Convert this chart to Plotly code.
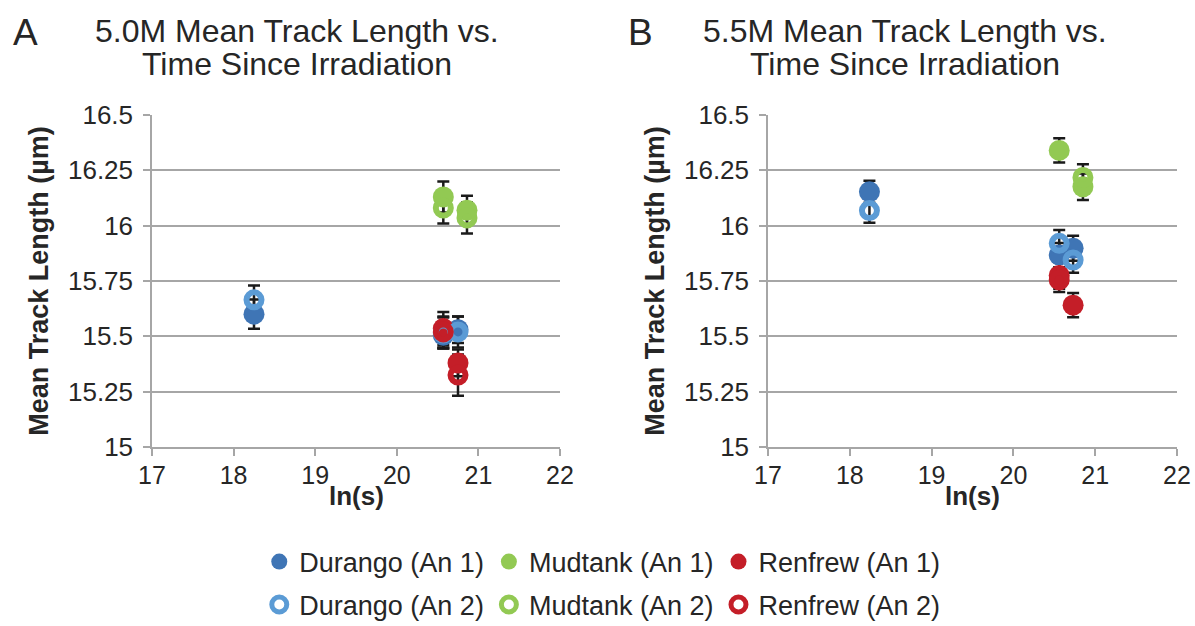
import plotly.graph_objects as go

# ---- data: ln(time since irradiation) vs mean track length (µm) ----
# Panel A: 5.0M etch
a_durango1_x = [18.25, 20.57, 20.75]
a_durango1_y = [15.60, 15.505, 15.53]
a_durango1_e = [0.066, 0.06, 0.06]
a_durango2_x = [18.25, 20.57, 20.75]
a_durango2_y = [15.665, 15.515, 15.52]
a_durango2_e = [0.065, 0.07, 0.07]
a_mudtank1_x = [20.57, 20.86]
a_mudtank1_y = [16.13, 16.07]
a_mudtank1_e = [0.07, 0.065]
a_mudtank2_x = [20.57, 20.86]
a_mudtank2_y = [16.08, 16.035]
a_mudtank2_e = [0.07, 0.07]
a_renfrew1_x = [20.57, 20.75]
a_renfrew1_y = [15.535, 15.38]
a_renfrew1_e = [0.075, 0.06]
a_renfrew2_x = [20.57, 20.75]
a_renfrew2_y = [15.52, 15.325]
a_renfrew2_e = [0.07, 0.093]

# Panel B: 5.5M etch
b_durango1_x = [18.24, 20.56, 20.73]
b_durango1_y = [16.153, 15.867, 15.898]
b_durango1_e = [0.05, 0.055, 0.057]
b_durango2_x = [18.24, 20.56, 20.73]
b_durango2_y = [16.068, 15.92, 15.845]
b_durango2_e = [0.055, 0.06, 0.058]
b_mudtank1_x = [20.56, 20.85]
b_mudtank1_y = [16.34, 16.176]
b_mudtank1_e = [0.055, 0.06]
b_mudtank2_x = [20.85]
b_mudtank2_y = [16.218]
b_mudtank2_e = [0.059]
b_renfrew1_x = [20.56, 20.73]
b_renfrew1_y = [15.775, 15.641]
b_renfrew1_e = [0.06, 0.055]
b_renfrew2_x = [20.56]
b_renfrew2_y = [15.755]
b_renfrew2_e = [0.055]

y_tick_vals = [15, 15.25, 15.5, 15.75, 16, 16.25, 16.5]
y_tick_text = ["15", "15.25", "15.5", "15.75", "16", "16.25", "16.5"]
x_tick_vals = [17, 18, 19, 20, 21, 22]

panel_titles = ["5.0M Mean Track Length vs.", "5.5M Mean Track Length vs."]
title_line2 = "Time Since Irradiation"
panel_letters = ["A", "B"]
x_title = "<b>ln(s)</b>"
y_title = "<b>Mean Track Length (µm)</b>"

# ---- styling ----
FONT = "Liberation Sans, Arial, sans-serif"
TXT = "#262626"
GRID = "#A6A6A6"
C_DUR1 = "#3F75B5"
C_DUR2 = "#5B9BD5"
C_MUD = "#92C953"
C_REN = "#C41E28"

series = [
    # (x axis, y axis, x, y, err, name, color, filled, legend, show in legend)
    ("x", "y", a_durango1_x, a_durango1_y, a_durango1_e, "Durango (An 1)", C_DUR1, True, "legend", True),
    ("x", "y", a_mudtank1_x, a_mudtank1_y, a_mudtank1_e, "Mudtank (An 1)", C_MUD, True, "legend", True),
    ("x", "y", a_renfrew1_x, a_renfrew1_y, a_renfrew1_e, "Renfrew (An 1)", C_REN, True, "legend", True),
    ("x", "y", a_durango2_x, a_durango2_y, a_durango2_e, "Durango (An 2)", C_DUR2, False, "legend2", True),
    ("x", "y", a_mudtank2_x, a_mudtank2_y, a_mudtank2_e, "Mudtank (An 2)", C_MUD, False, "legend2", True),
    ("x", "y", a_renfrew2_x, a_renfrew2_y, a_renfrew2_e, "Renfrew (An 2)", C_REN, False, "legend2", True),
    ("x2", "y2", b_durango1_x, b_durango1_y, b_durango1_e, "Durango (An 1)", C_DUR1, True, "legend", False),
    ("x2", "y2", b_mudtank1_x, b_mudtank1_y, b_mudtank1_e, "Mudtank (An 1)", C_MUD, True, "legend", False),
    ("x2", "y2", b_renfrew1_x, b_renfrew1_y, b_renfrew1_e, "Renfrew (An 1)", C_REN, True, "legend", False),
    ("x2", "y2", b_durango2_x, b_durango2_y, b_durango2_e, "Durango (An 2)", C_DUR2, False, "legend2", False),
    ("x2", "y2", b_mudtank2_x, b_mudtank2_y, b_mudtank2_e, "Mudtank (An 2)", C_MUD, False, "legend2", False),
    ("x2", "y2", b_renfrew2_x, b_renfrew2_y, b_renfrew2_e, "Renfrew (An 2)", C_REN, False, "legend2", False),
]

fig = go.Figure()

# error bars first, so every marker sits above every bar
for xa, ya, x, y, e, name, color, filled, leg, show in series:
    fig.add_trace(go.Scatter(
        x=x, y=y, mode="markers", name=name, showlegend=False, hoverinfo="skip",
        marker=dict(size=2, color="rgba(0,0,0,0)"),
        error_y=dict(type="data", array=e, visible=True, color="#1A1A1A",
                     thickness=2.5, width=6),
        xaxis=xa, yaxis=ya,
    ))

# markers on top
for xa, ya, x, y, e, name, color, filled, leg, show in series:
    if filled:
        marker = dict(symbol="circle", size=21, color=color, line=dict(width=0))
    else:
        marker = dict(symbol="circle-open", size=15, color=color,
                      line=dict(width=6, color=color))
    fig.add_trace(go.Scatter(
        x=x, y=y, mode="markers", name=name, marker=marker,
        xaxis=xa, yaxis=ya, legend=leg, showlegend=show,
    ))

W, H = 1195, 626
y_dom = [1 - 447 / H, 1 - 115 / H]
xa_dom = [152 / W, 560 / W]
xb_dom = [768 / W, 1177 / W]

xaxis_common = dict(
    range=[17, 22], tickvals=x_tick_vals, showgrid=False, zeroline=False,
    showline=True, linecolor=GRID, linewidth=1.5, automargin=False,
    ticks="outside", ticklen=7, tickwidth=1.5, tickcolor=GRID,
    ticklabelstandoff=-2,
    tickfont=dict(family=FONT, size=25, color=TXT),
)
yaxis_common = dict(
    range=[15, 16.5], tickvals=y_tick_vals, ticktext=y_tick_text,
    showgrid=True, gridcolor=GRID, gridwidth=1.5, zeroline=False,
    showline=True, linecolor=GRID, linewidth=1.5, automargin=False,
    ticks="outside", ticklen=7, tickwidth=1.5, tickcolor=GRID,
    ticklabelstandoff=5,
    tickfont=dict(family=FONT, size=26, color=TXT),
    title=dict(text=y_title, font=dict(family=FONT, size=27, color=TXT), standoff=12),
)

fig.update_layout(
    width=W, height=H,
    margin=dict(l=0, r=0, t=0, b=0, autoexpand=False),
    paper_bgcolor="white", plot_bgcolor="white",
    font=dict(family=FONT, color=TXT),
    xaxis=dict(domain=xa_dom, anchor="y", **xaxis_common),
    yaxis=dict(domain=y_dom, anchor="x", **yaxis_common),
    xaxis2=dict(domain=xb_dom, anchor="y2", **xaxis_common),
    yaxis2=dict(domain=y_dom, anchor="x2", **yaxis_common),
    legend=dict(orientation="h", x=0.504, xanchor="center", y=1 - 562 / H, yanchor="middle",
                font=dict(family=FONT, size=27, color=TXT), bgcolor="rgba(0,0,0,0)",
                itemsizing="trace", traceorder="normal"),
    legend2=dict(orientation="h", x=0.504, xanchor="center", y=1 - 605 / H, yanchor="middle",
                 font=dict(family=FONT, size=27, color=TXT), bgcolor="rgba(0,0,0,0)",
                 itemsizing="trace", traceorder="normal"),
)

# x-axis titles sit just under the tick labels
for dom in (xa_dom, xb_dom):
    fig.add_annotation(text=x_title, x=(dom[0] + dom[1]) / 2, y=1 - 496 / H,
                       xref="paper", yref="paper", showarrow=False,
                       xanchor="center", yanchor="middle",
                       font=dict(family=FONT, size=26, color=TXT))

# panel titles and letters
title_centers = [297 / W, 905 / W]
letter_x = [26 / W, 640 / W]
for i in range(2):
    fig.add_annotation(text=panel_titles[i], x=title_centers[i], y=1 - 31 / H,
                       xref="paper", yref="paper", showarrow=False,
                       xanchor="center", yanchor="middle",
                       font=dict(family=FONT, size=32, color=TXT))
    fig.add_annotation(text=title_line2, x=title_centers[i], y=1 - 64 / H,
                       xref="paper", yref="paper", showarrow=False,
                       xanchor="center", yanchor="middle",
                       font=dict(family=FONT, size=32, color=TXT))
    fig.add_annotation(text=panel_letters[i], x=letter_x[i], y=1 - 32 / H,
                       xref="paper", yref="paper", showarrow=False,
                       xanchor="center", yanchor="middle",
                       font=dict(family=FONT, size=37, color=TXT))

fig.write_html("out.html")
